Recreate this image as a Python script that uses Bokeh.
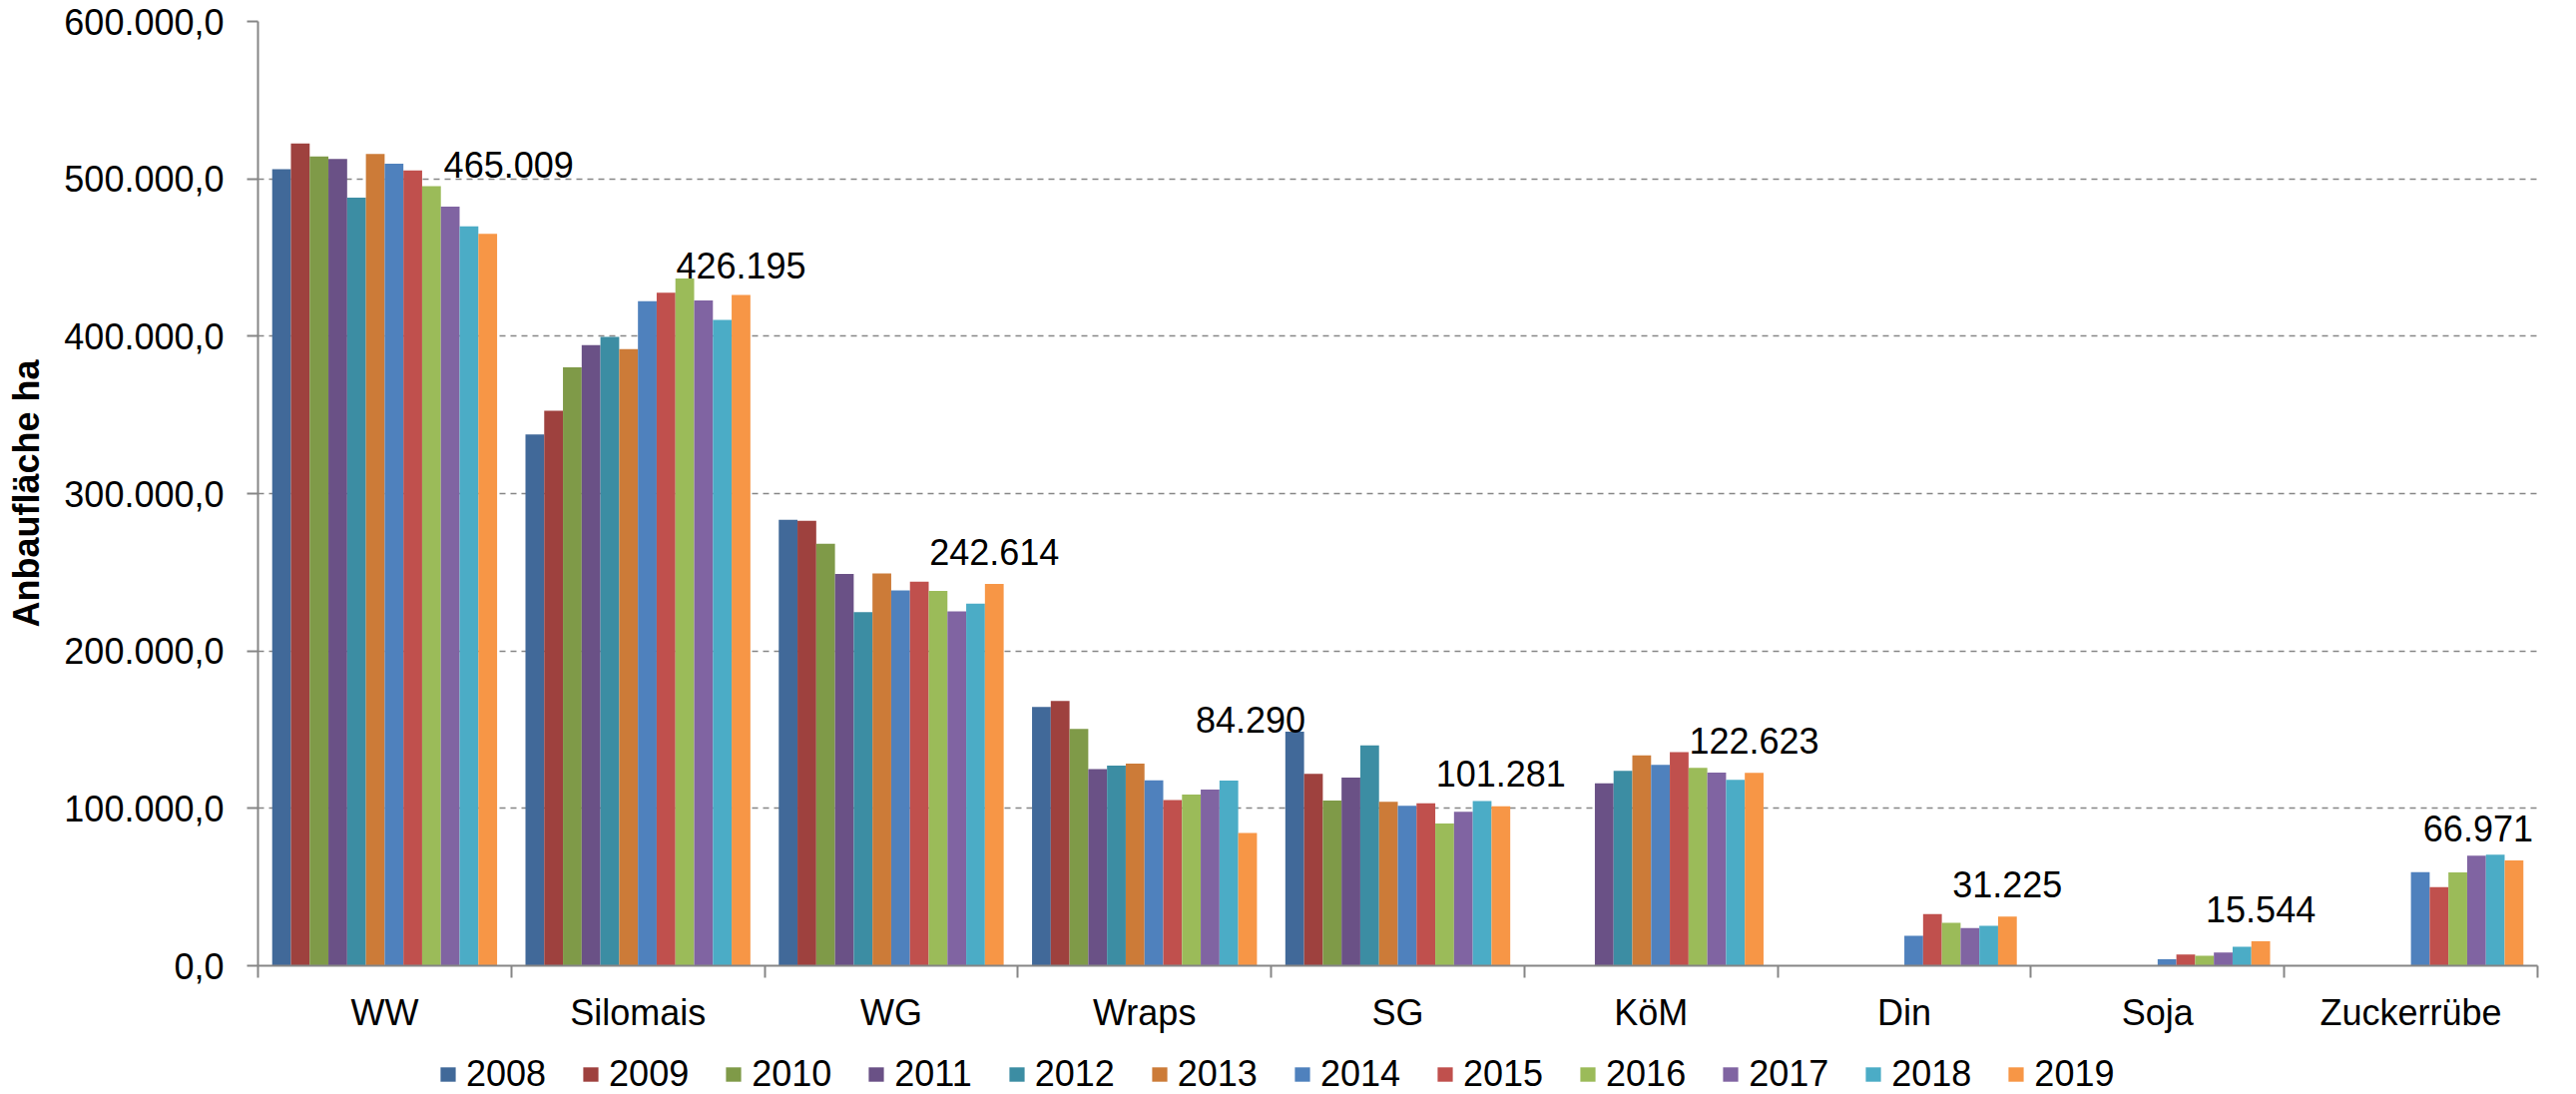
from bokeh.plotting import figure
from bokeh.layouts import column
from bokeh.models import (Range1d, FixedTicker, ColumnDataSource, Legend,
                          LegendItem, LabelSet)
from bokeh.core.properties import value
from bokeh.embed import file_html
from bokeh.resources import INLINE

categories = ["WW", "Silomais", "WG", "Wraps", "SG", "KöM", "Din", "Soja", "Zuckerrübe"]
years = ["2008", "2009", "2010", "2011", "2012", "2013",
         "2014", "2015", "2016", "2017", "2018", "2019"]

# Anbaufläche in ha, one list per year, order as in `categories` (None = no data)
v2008 = [506200, 337600, 283300, 164400, 148700, None, None, None, None]
v2009 = [522400, 352700, 282700, 168200, 122000, None, None, None, None]
v2010 = [514200, 380200, 268200, 150400, 104900, None, None, None, None]
v2011 = [512700, 394400, 248900, 124900, 119600, 115900, None, None, None]
v2012 = [488000, 399600, 224700, 127100, 140000, 123900, None, None, None]
v2013 = [515800, 391800, 249300, 128400, 104200, 133700, None, None, None]
v2014 = [509600, 422200, 238400, 117800, 101600, 127700, 19000, 4100, 59500]
v2015 = [505300, 427600, 244000, 105300, 103200, 135700, 32800, 7200, 49900]
v2016 = [495300, 436700, 238200, 108700, 90400, 125800, 27200, 6300, 59300]
v2017 = [482400, 422700, 225100, 112000, 97900, 122700, 23900, 8400, 69900]
v2018 = [469800, 410400, 230000, 117600, 104700, 118100, 25300, 12000, 70600]
v2019 = [465009, 426195, 242614, 84290, 101281, 122623, 31225, 15544, 66971]
series = [v2008, v2009, v2010, v2011, v2012, v2013,
          v2014, v2015, v2016, v2017, v2018, v2019]

y_ticks = [0, 100000, 200000, 300000, 400000, 500000, 600000]

colors = ["#416999", "#9E413E", "#7F9A48", "#6A5186", "#3C8DA3", "#CC7B38",
          "#4F81BD", "#C0504D", "#9BBB59", "#8064A2", "#4BACC6", "#F79646"]

FONT = "Liberation Sans"
GRAY = "#868686"
bar_w = 0.074

p = figure(width=2581, height=1040, output_backend="svg", toolbar_location=None,
           x_range=Range1d(0, len(categories)), y_range=Range1d(0, 600000),
           min_border_left=258, min_border_right=39, min_border_top=21,
           min_border_bottom=73)
p.outline_line_color = None
p.background_fill_color = "white"
p.border_fill_color = "white"

sources = []
n = len(years)
for j, (yr, vals) in enumerate(zip(years, series)):
    off = (j - (n - 1) / 2) * bar_w
    xs = [i + 0.5 + off for i, v in enumerate(vals) if v is not None]
    tops = [v for v in vals if v is not None]
    src = ColumnDataSource(dict(x=xs, top=tops))
    p.vbar(x="x", top="top", width=bar_w, bottom=0, source=src,
           fill_color=colors[j], line_color=None)
    sources.append(src)

# data labels for 2019 (offsets in screen pixels, as placed in the original)
off19 = (n - 1 - (n - 1) / 2) * bar_w
lbl_dx = [21, 0, 0, 3, 0, 0, 0, 0, -36]
lbl_dy = [56, 17, 19, 101, 20, 19, 19, 19, 19]
lbl_src = ColumnDataSource(dict(
    x=[i + 0.5 + off19 for i in range(len(categories))],
    y=v2019,
    text=[f"{v:,}".replace(",", ".") for v in v2019],
    dx=lbl_dx, dy=lbl_dy))
labels = LabelSet(x="x", y="y", text="text", source=lbl_src, x_offset="dx", y_offset="dy",
                  text_align="center", text_baseline="alphabetic",
                  text_font=value(FONT), text_font_size=value("36px"), text_color="black")
p.add_layout(labels)

# x axis
xax = p.xaxis[0]
xax.ticker = FixedTicker(ticks=[i + 0.5 for i in range(len(categories))],
                         minor_ticks=list(range(len(categories) + 1)))
xax.major_label_overrides = {i + 0.5: c for i, c in enumerate(categories)}
xax.major_tick_out = 0
xax.major_tick_in = 0
xax.minor_tick_out = 12
xax.minor_tick_in = 0
xax.minor_tick_line_color = GRAY
xax.minor_tick_line_width = 2
xax.axis_line_color = GRAY
xax.axis_line_width = 2
xax.major_label_text_font = FONT
xax.major_label_text_font_size = "36px"
xax.major_label_text_color = "black"
xax.major_label_standoff = 14

# y axis
def de_fmt(v):
    s = f"{v:,.1f}"
    return s.replace(",", "X").replace(".", ",").replace("X", ".")

yax = p.yaxis[0]
yax.ticker = FixedTicker(ticks=y_ticks, minor_ticks=[])
yax.major_label_overrides = {t: de_fmt(t) for t in y_ticks}
yax.major_tick_out = 11
yax.major_tick_in = 0
yax.minor_tick_out = 0
yax.minor_tick_in = 0
yax.major_tick_line_color = GRAY
yax.major_tick_line_width = 2
yax.axis_line_color = GRAY
yax.axis_line_width = 2
yax.major_label_text_font = FONT
yax.major_label_text_font_size = "36px"
yax.major_label_text_color = "black"
yax.major_label_standoff = 23
yax.axis_label = "Anbaufläche ha"
yax.axis_label_text_font = FONT
yax.axis_label_text_font_size = "36px"
yax.axis_label_text_font_style = "bold"
yax.axis_label_text_color = "black"
yax.axis_label_standoff = 14

p.xgrid.visible = False
p.ygrid.ticker = FixedTicker(ticks=y_ticks[1:])
p.ygrid.grid_line_color = GRAY
p.ygrid.grid_line_dash = "6 5"
p.ygrid.grid_line_width = 1.5

# legend strip underneath the chart (hidden renderers share the bar data)
lf = figure(width=2581, height=56, output_backend="svg", toolbar_location=None,
            x_range=Range1d(0, 1), y_range=Range1d(0, 1),
            x_axis_location=None, y_axis_location=None, min_border=0)
lf.grid.visible = False
lf.outline_line_color = None
lf.background_fill_color = "white"
lf.border_fill_color = "white"
key_renderers = []
for src, c in zip(sources, colors):
    r = lf.vbar(x="x", top="top", width=bar_w, source=src, fill_color=c, line_color=None)
    r.visible = False
    key_renderers.append(r)
legend = Legend(items=[LegendItem(label=yr, renderers=[r]) for yr, r in zip(years, key_renderers)],
                orientation="horizontal", location=(181, -1),
                glyph_width=19, glyph_height=18, label_standoff=9, spacing=35,
                padding=0, margin=0, label_text_font=FONT, label_text_font_size="36px",
                label_text_color="black", border_line_alpha=0, background_fill_alpha=0,
                inactive_fill_alpha=0)
lf.add_layout(legend)

page = column(p, lf, spacing=0)
open("out.html", "w").write(file_html(page, INLINE))
